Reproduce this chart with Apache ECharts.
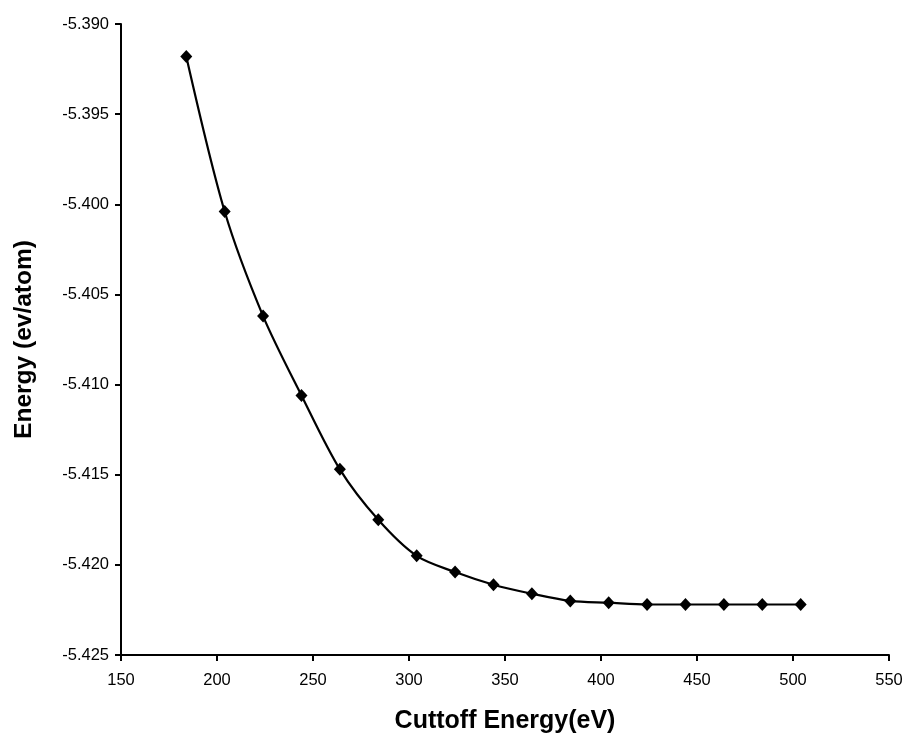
<!DOCTYPE html>
<html>
<head>
<meta charset="utf-8">
<script src="https://cdn.jsdelivr.net/npm/echarts@6/dist/echarts.min.js"></script>
<style>
  html, body { margin: 0; padding: 0; background: #fff; }
  #chart { width: 907px; height: 739px; }
</style>
</head>
<body>
<div id="chart"></div>
<script>
// Plane-wave cutoff energy (eV) and total energy per atom (eV/atom)
const cutoffEnergy = [184, 204, 224, 244, 264, 284, 304, 324, 344, 364, 384, 404, 424, 444, 464, 484, 504];
const energyPerAtom = [-5.3918, -5.4004, -5.4062, -5.4106, -5.4147, -5.4175, -5.4195, -5.4204,
                       -5.4211, -5.4216, -5.4220, -5.4221, -5.4222, -5.4222, -5.4222, -5.4222, -5.4222];
const xTicks = [150, 200, 250, 300, 350, 400, 450, 500, 550];
const yTicks = [-5.425, -5.420, -5.415, -5.410, -5.405, -5.400, -5.395, -5.390];

const points = cutoffEnergy.map((x, i) => [x, energyPerAtom[i]]);

const font = 'Arial, "Liberation Sans", Helvetica, sans-serif';
const axisStyle = {
  axisLine: { show: true, onZero: false, lineStyle: { color: '#000', width: 2 } },
  axisTick: { show: true, inside: false, length: 6, lineStyle: { color: '#000', width: 2 } },
  splitLine: { show: false }
};

const chart = echarts.init(document.getElementById('chart'), null, { renderer: 'canvas' });
chart.setOption({
  backgroundColor: '#fff',
  animation: false,
  grid: { left: 121, right: 18, top: 24, bottom: 83, containLabel: false },
  xAxis: Object.assign({
    type: 'value',
    min: xTicks[0],
    max: xTicks[xTicks.length - 1],
    interval: 50,
    name: 'Cuttoff Energy(eV)',
    nameLocation: 'middle',
    nameGap: 54,
    nameTextStyle: { fontFamily: font, fontSize: 25, fontWeight: 'bold', color: '#000' },
    axisLabel: { fontFamily: font, fontSize: 16.5, color: '#000', margin: 17 }
  }, axisStyle),
  yAxis: Object.assign({
    type: 'value',
    min: yTicks[0],
    max: yTicks[yTicks.length - 1],
    interval: 0.005,
    name: 'Energy (ev/atom)',
    nameLocation: 'middle',
    nameGap: 84,
    nameTextStyle: { fontFamily: font, fontSize: 24.5, fontWeight: 'bold', color: '#000' },
    axisLabel: {
      fontFamily: font, fontSize: 16.5, color: '#000', margin: 12,
      formatter: v => v.toFixed(3)
    }
  }, axisStyle),
  series: [{
    type: 'line',
    data: points,
    smooth: 0.3,
    symbol: 'diamond',
    symbolSize: [12, 13],
    lineStyle: { color: '#000', width: 2.2 },
    itemStyle: { color: '#000' },
    showAllSymbol: true
  }]
});
</script>
</body>
</html>
